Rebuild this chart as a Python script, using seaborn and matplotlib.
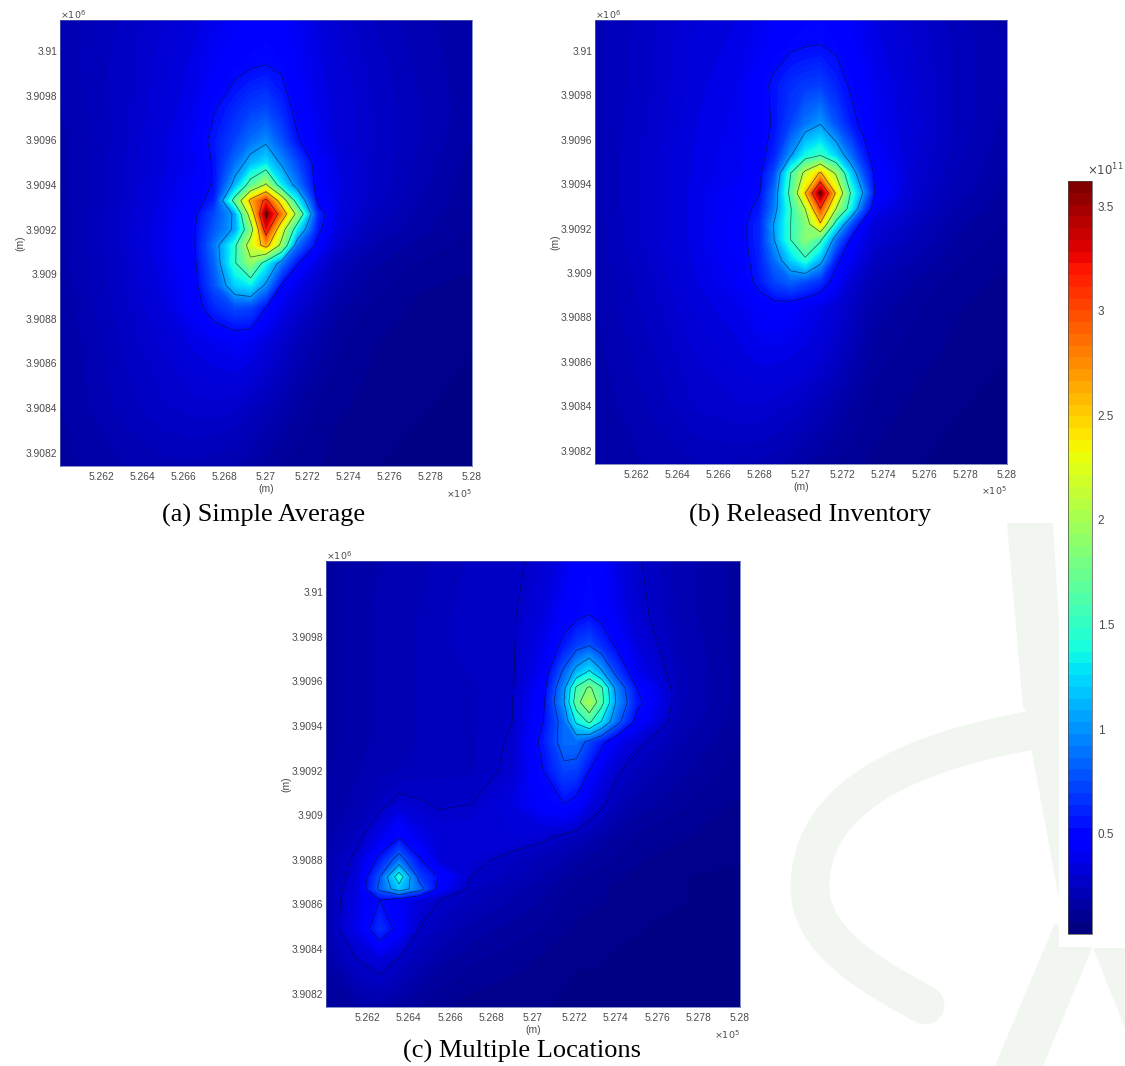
import numpy as np
import matplotlib.pyplot as plt
import seaborn as sns
from matplotlib.colors import Normalize
from matplotlib.cm import ScalarMappable
from matplotlib.path import Path
from matplotlib.patches import PathPatch

W, H = 1125, 1066

sns.set_theme(style='white')
plt.rcParams['font.family'] = ['Liberation Sans', 'DejaVu Sans']

# (a) Simple Average, values in 1e11
x_a = [526000, 526300, 526500, 526650, 526750, 526850, 526925, 527000, 527075, 527150, 527250, 527350, 527500, 527750, 528000]
y_a = [3908140, 3908400, 3908700, 3908850, 3908950, 3909050, 3909130, 3909200, 3909270, 3909330, 3909400, 3909500, 3909600, 3909740, 3909940, 3910140]
z_a = [
    [.12, .16, .18, .18, .17, .16, .14, .12, .10, .09, .08, .06, .05, .04, .03],
    [.13, .20, .24, .26, .26, .25, .22, .19, .16, .13, .10, .08, .07, .05, .04],
    [.13, .22, .28, .34, .37, .40, .38, .32, .26, .20, .15, .11, .08, .06, .05],
    [.14, .23, .31, .42, .60, .72, .70, .50, .36, .28, .20, .14, .10, .07, .06],
    [.14, .24, .33, .44, .75, 1.2, 1.3, .95, .48, .35, .25, .17, .12, .08, .07],
    [.15, .24, .35, .46, .82, 1.48, 1.9, 1.35, .88, .52, .32, .20, .14, .10, .08],
    [.15, .25, .36, .48, .88, 1.45, 2.2, 2.65, 1.9, .85, .45, .26, .17, .12, .09],
    [.15, .25, .36, .48, .78, 1.05, 1.8, 3.2, 2.2, 1.3, .55, .30, .20, .14, .10],
    [.15, .25, .35, .46, .72, 1.05, 2.2, 3.6, 2.8, 1.9, .60, .33, .22, .15, .10],
    [.15, .24, .34, .42, .58, 1.65, 2.6, 3.1, 2.3, 1.35, .46, .33, .24, .16, .11],
    [.15, .24, .33, .40, .52, 1.1, 1.65, 2.05, 1.3, .9, .42, .34, .25, .17, .11],
    [.15, .24, .32, .38, .52, .85, 1.1, 1.25, .96, .72, .42, .32, .25, .18, .12],
    [.15, .23, .32, .40, .55, .70, .85, .95, .75, .52, .38, .30, .25, .19, .13],
    [.16, .23, .30, .36, .49, .60, .68, .72, .60, .45, .36, .30, .25, .19, .14],
    [.17, .23, .29, .34, .40, .45, .48, .50, .47, .40, .34, .29, .24, .18, .14],
    [.17, .22, .27, .31, .36, .40, .43, .44, .42, .38, .32, .27, .22, .17, .14],
]

# (b) Released Inventory
x_b = [526000, 526300, 526500, 526700, 526800, 526870, 526950, 527020, 527094, 527170, 527240, 527300, 527360, 527550, 527750, 528000]
y_b = [3908140, 3908400, 3908650, 3908850, 3908960, 3909060, 3909150, 3909220, 3909290, 3909360, 3909450, 3909530, 3909670, 3909850, 3910030, 3910140]
z_b = [
    [.13, .17, .19, .19, .18, .17, .15, .13, .12, .10, .09, .08, .07, .05, .04, .03],
    [.14, .20, .25, .27, .27, .26, .24, .22, .19, .16, .13, .11, .09, .07, .05, .04],
    [.15, .22, .28, .32, .35, .35, .34, .32, .29, .24, .19, .15, .12, .09, .07, .05],
    [.16, .24, .31, .36, .42, .44, .42, .38, .34, .29, .24, .18, .15, .11, .08, .06],
    [.16, .25, .33, .40, .55, .70, .80, .72, .62, .42, .28, .22, .18, .13, .09, .07],
    [.17, .26, .34, .42, .58, .85, 1.2, 1.45, 1.1, .55, .38, .30, .22, .16, .11, .08],
    [.17, .27, .35, .44, .60, 1.0, 1.5, 1.85, 1.55, .85, .47, .35, .27, .19, .13, .09],
    [.17, .27, .35, .44, .60, 1.02, 1.5, 1.8, 2.45, 1.35, .75, .42, .30, .21, .14, .10],
    [.18, .27, .35, .42, .55, .90, 1.48, 2.0, 3.0, 2.0, 1.35, .75, .38, .24, .16, .11],
    [.18, .27, .35, .42, .50, .85, 1.6, 2.5, 3.6, 2.45, 1.5, 1.0, .48, .26, .18, .12],
    [.18, .27, .34, .38, .47, .72, 1.5, 2.1, 2.55, 1.95, 1.2, .75, .46, .27, .19, .13],
    [.18, .27, .34, .38, .45, .58, .98, 1.35, 1.5, 1.2, .85, .58, .42, .28, .20, .14],
    [.18, .26, .33, .37, .44, .52, .70, .88, 1.0, .75, .56, .46, .38, .29, .21, .15],
    [.18, .25, .32, .36, .45, .53, .62, .66, .68, .58, .48, .42, .37, .28, .21, .16],
    [.18, .25, .31, .34, .39, .43, .47, .49, .50, .47, .42, .38, .34, .27, .21, .16],
    [.18, .24, .30, .33, .37, .41, .44, .46, .47, .45, .41, .37, .33, .26, .20, .15],
]

# (c) Multiple Locations
x_c = [526000, 526150, 526260, 526353, 526450, 526550, 526700, 526900, 527050, 527150, 527210, 527272, 527330, 527400, 527500, 527700, 528000]
y_c = [3908140, 3908350, 3908490, 3908620, 3908670, 3908724, 3908800, 3908900, 3909050, 3909200, 3909330, 3909420, 3909507, 3909570, 3909640, 3909760, 3909900, 3910140]
z_c = [
    [.10, .13, .14, .12, .10, .08, .06, .05, .05, .04, .04, .04, .04, .03, .03, .03, .02],
    [.14, .25, .30, .24, .18, .14, .11, .09, .07, .06, .05, .05, .05, .04, .04, .03, .03],
    [.17, .36, .62, .44, .25, .20, .15, .12, .10, .08, .07, .07, .06, .06, .05, .04, .03],
    [.17, .34, .50, .40, .30, .25, .20, .16, .13, .10, .09, .08, .08, .07, .06, .05, .04],
    [.17, .32, .80, 1.15, .85, .42, .22, .17, .14, .11, .10, .09, .08, .07, .06, .05, .04],
    [.16, .30, .75, 1.40, .68, .48, .25, .20, .16, .13, .11, .10, .09, .08, .07, .05, .04],
    [.16, .28, .55, .85, .52, .30, .28, .22, .18, .16, .14, .12, .11, .10, .08, .06, .05],
    [.15, .22, .36, .50, .36, .30, .30, .30, .27, .22, .20, .17, .15, .12, .10, .08, .06],
    [.14, .17, .22, .28, .26, .24, .25, .33, .44, .50, .44, .33, .27, .20, .15, .11, .07],
    [.13, .16, .18, .19, .20, .21, .21, .27, .50, .70, .68, .50, .36, .27, .20, .14, .09],
    [.12, .15, .17, .18, .19, .20, .21, .26, .55, .85, .85, .70, .55, .38, .28, .17, .10],
    [.12, .15, .17, .18, .19, .20, .21, .25, .50, .85, 1.30, 1.55, 1.25, .85, .45, .19, .11],
    [.12, .15, .17, .18, .19, .20, .21, .25, .47, 1.0, 1.65, 2.0, 1.6, 1.0, .55, .20, .12],
    [.12, .15, .17, .18, .19, .20, .21, .24, .44, .95, 1.55, 1.8, 1.55, .95, .50, .20, .12],
    [.12, .15, .17, .18, .19, .20, .22, .24, .40, .80, 1.1, 1.3, 1.05, .70, .38, .20, .12],
    [.12, .15, .17, .18, .19, .21, .23, .24, .36, .55, .68, .75, .62, .48, .32, .19, .12],
    [.12, .15, .17, .18, .19, .21, .23, .24, .32, .42, .46, .50, .45, .38, .28, .18, .12],
    [.12, .15, .16, .17, .18, .20, .22, .23, .28, .35, .42, .46, .42, .34, .26, .18, .12],
]

line_levels_ab = [0.5, 1, 1.5, 2, 2.5, 3, 3.5]
line_levels_c = [0.25, 0.5, 0.75, 1, 1.25, 1.5, 1.75]
cbar_ticks = [0.5, 1, 1.5, 2, 2.5, 3, 3.5]
cbar_labels = ['0.5', '1', '1.5', '2', '2.5', '3', '3.5']
x_ticks = [526200, 526400, 526600, 526800, 527000, 527200, 527400, 527600, 527800, 528000]
x_labels = ['5.262', '5.264', '5.266', '5.268', '5.27', '5.272', '5.274', '5.276', '5.278', '5.28']
y_ticks = [3908200, 3908400, 3908600, 3908800, 3909000, 3909200, 3909400, 3909600, 3909800, 3910000]
y_labels = ['3.9082', '3.9084', '3.9086', '3.9088', '3.909', '3.9092', '3.9094', '3.9096', '3.9098', '3.91']

vmin, vmax = 0.02, 3.62
fill_levels = np.linspace(vmin, vmax, 129)
jet = plt.get_cmap('jet')
norm = Normalize(vmin, vmax)
GREY = '#4a4a4a'


def rect(left, top, right, bottom):
    # pixel box to figure fraction
    return [left / W, 1 - bottom / H, (right - left) / W, (bottom - top) / H]


def panel(fig, box, xs, ys, zs, line_levels, caption, cap_x, cap_y):
    ax = fig.add_axes(rect(*box))
    ax.contourf(xs, ys, zs, levels=fill_levels, cmap=jet, norm=norm, extend='both')
    ax.contour(xs, ys, zs, levels=line_levels, colors='#000820', linewidths=0.5, alpha=0.65)
    ax.set_xlim(526000, 528000)
    ax.set_ylim(3908140, 3910140)
    ax.set_xticks(x_ticks, x_labels)
    ax.set_yticks(y_ticks, y_labels)
    ax.tick_params(length=0, labelsize=7.4, labelcolor=GREY)
    ax.tick_params(axis='x', pad=4)
    ax.tick_params(axis='y', pad=2)
    ax.set_xlabel('(m)', fontsize=7.4, color=GREY, labelpad=2)
    ax.set_ylabel('(m)', fontsize=7.4, color=GREY, labelpad=0)
    for s in ax.spines.values():
        s.set_color('#5560b0')
        s.set_linewidth(0.5)
    ax.text(0, 0.997, r'$\times 10^6$', transform=ax.transAxes, fontsize=6.8, color=GREY, va='bottom')
    ax.text(1, -0.047, r'$\times 10^5$', transform=ax.transAxes, fontsize=6.8, color=GREY, ha='right', va='top')
    fig.text(cap_x / W, 1 - cap_y / H, caption, family='Liberation Serif', fontsize=19,
             color='black', ha='center', va='center')
    return ax


fig = plt.figure(figsize=(W / 100, H / 100), dpi=100)

# faint watermark behind everything
bg = fig.add_axes([0, 0, 1, 1], zorder=-1)
bg.set_xlim(0, W)
bg.set_ylim(H, 0)
bg.axis('off')
wm = '#f1f6f1'
bg.fill([1007, 1053, 1060, 1060, 1023], [523, 523, 640, 760, 707], color=wm, lw=0)
bg.fill([1028, 1060, 1060], [730, 730, 905], color=wm, lw=0)
arc = Path([(1045, 728), (900, 752), (812, 800), (810, 885), (808, 940), (870, 975), (925, 1005)],
           [Path.MOVETO, Path.CURVE4, Path.CURVE4, Path.CURVE4, Path.CURVE4, Path.CURVE4, Path.CURVE4])
bg.add_patch(PathPatch(arc, fill=False, edgecolor=wm, lw=28, capstyle='round'))
bg.fill([1055, 995, 1043, 1092], [923, 1066, 1066, 948], color=wm, lw=0)
bg.fill([1093, 1125, 1125], [948, 948, 1028], color=wm, lw=0)
bg.fill([1059, 1125, 1125, 1059], [165, 165, 947, 947], color='white', lw=0, zorder=3)

panel(fig, (60, 20, 472, 466), x_a, y_a, z_a, line_levels_ab, '(a) Simple Average', 264, 515)
panel(fig, (595, 20, 1007, 464), x_b, y_b, z_b, line_levels_ab, '(b) Released Inventory', 810, 515)
panel(fig, (326, 561, 740, 1007), x_c, y_c, z_c, line_levels_c, '(c) Multiple Locations', 522, 1051)

cax = fig.add_axes(rect(1068, 181, 1092, 934))
cb = fig.colorbar(ScalarMappable(norm=norm, cmap=plt.get_cmap('jet', 64)), cax=cax, ticks=cbar_ticks)
cb.minorticks_off()
cb.ax.set_yticklabels(cbar_labels)
cb.ax.tick_params(length=3, width=0.5, direction='in', labelsize=8.5, labelcolor=GREY, pad=4, color=GREY)
cb.outline.set_linewidth(0.5)
cb.outline.set_edgecolor(GREY)
fig.text(1124 / W, 1 - 178 / H, r'$\times 10^{11}$', fontsize=8.5, color=GREY, ha='right', va='bottom')

fig.savefig('out.png', dpi=100)
